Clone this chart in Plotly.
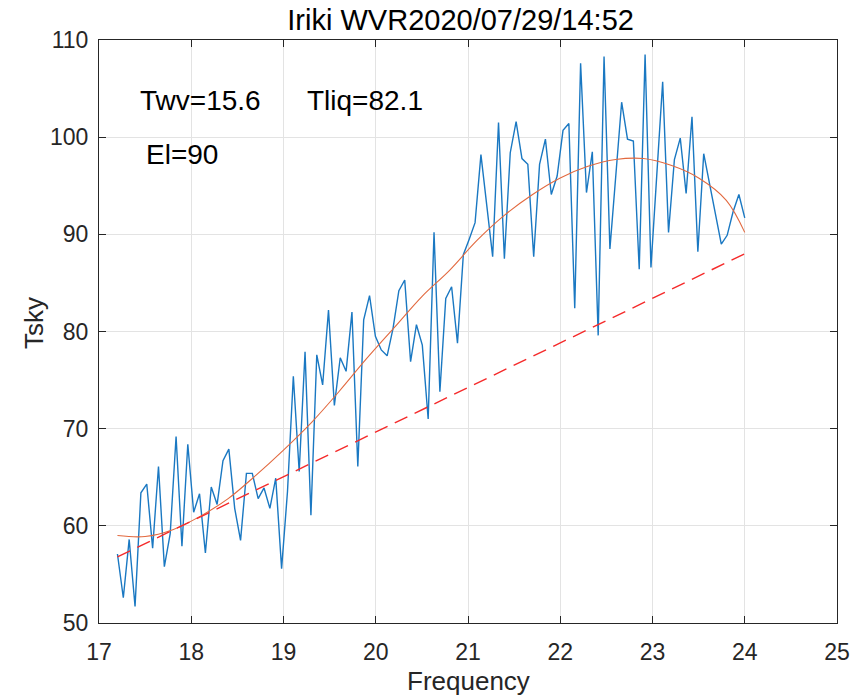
import numpy as np
import plotly.graph_objects as go

# measured sky brightness temperature (108 channels, 17.2 - 24.0 GHz)
freq = np.linspace(17.2, 24.0, 108)
tsky = [
    57.1, 52.6, 58.6, 51.7, 63.4, 64.3, 57.7, 66.1, 55.8, 59.2,
    69.2, 57.9, 68.4, 61.4, 63.3, 57.2, 64.0, 62.2, 66.7, 67.9,
    61.8, 58.5, 65.4, 65.4, 62.8, 63.9, 61.8, 64.9, 55.6, 63.5,
    75.4, 65.6, 77.9, 61.1, 77.6, 74.5, 82.2, 72.4, 77.3, 75.9,
    82.0, 66.1, 81.2, 83.7, 79.5, 78.1, 77.5, 80.3, 84.2, 85.3,
    76.9, 80.7, 78.6, 71.0, 90.2, 73.8, 83.4, 84.6, 78.8, 87.9,
    89.5, 91.2, 98.2, 92.9, 87.7, 101.5, 87.5, 98.4, 101.6, 97.8,
    97.2, 87.7, 97.2, 99.8, 94.1, 96.0, 100.7, 101.4, 82.4, 107.6,
    94.3, 98.5, 79.6, 108.3, 88.5, 96.0, 103.6, 99.8, 99.6, 86.4,
    108.5, 86.6, 96.4, 105.7, 90.2, 97.7, 99.9, 94.2, 102.1, 88.2,
    98.3, 95.3, 92.3, 89.0, 89.9, 92.3, 94.1, 91.7,
]

# model fit (orange)
fit_freq = [17.2, 17.5, 17.8, 18.1, 18.4, 18.7, 19.0, 19.3, 19.6, 19.9,
            20.2, 20.5, 20.8, 21.1, 21.4, 21.7, 22.0, 22.3, 22.6, 22.9,
            23.2, 23.5, 23.8, 24.0]
fit_tsky = [59.0, 58.9, 59.6, 61.0, 62.8, 65.2, 67.8, 70.6, 73.8, 77.2,
            80.4, 83.6, 86.3, 89.4, 92.0, 94.1, 95.8, 97.0, 97.7, 97.8,
            97.1, 95.8, 93.5, 90.2]

# dry component (red dashed)
dry_freq = [17.2, 24.0]
dry_tsky = [56.8, 88.0]

font = "Liberation Sans, Arial, sans-serif"

fig = go.Figure()
fig.add_trace(go.Scatter(x=freq, y=tsky, mode="lines",
                         line=dict(color="#1a78c2", width=1.4)))
fig.add_trace(go.Scatter(x=fit_freq, y=fit_tsky, mode="lines",
                         line=dict(color="#e2693f", width=1.1, shape="spline")))
fig.add_trace(go.Scatter(x=dry_freq, y=dry_tsky, mode="lines",
                         line=dict(color="#f52a2a", width=1.4, dash="14px,8px")))

axis_style = dict(showline=True, mirror="ticks", linecolor="#262626", linewidth=1,
                  ticks="inside", ticklen=7, tickcolor="#262626",
                  showgrid=True, gridcolor="#e3e3e3", gridwidth=1,
                  zeroline=False, automargin=False,
                  tickfont=dict(family=font, size=23, color="#262626"))

fig.update_layout(
    width=856, height=698,
    margin=dict(l=99, r=19, t=40, b=75),
    plot_bgcolor="white", paper_bgcolor="white",
    showlegend=False,
    title=dict(text="Iriki WVR2020/07/29/14:52", xref="paper", x=0.49, xanchor="center",
               yref="container", y=1 - 20 / 698, yanchor="middle",
               font=dict(family=font, size=29, color="#000000")),
    xaxis=dict(range=[17, 25], dtick=1, ticklabelstandoff=8, **axis_style),
    yaxis=dict(range=[50, 110], dtick=10, ticklabelstandoff=5, **axis_style),
)

# axis titles placed by hand so they do not push the margins
fig.add_annotation(x=0.5, y=-0.0995, xref="paper", yref="paper", text="Frequency",
                   showarrow=False, xanchor="center", yanchor="middle",
                   font=dict(family=font, size=26, color="#262626"))
fig.add_annotation(x=-0.089, y=0.515, xref="paper", yref="paper", text="Tsky",
                   textangle=-90, showarrow=False, xanchor="center", yanchor="middle",
                   font=dict(family=font, size=26, color="#262626"))

annotations = [("Twv=15.6", 17.42, 103.8), ("Tliq=82.1", 19.23, 103.8), ("El=90", 17.49, 98.2)]
for text, ax, ay in annotations:
    fig.add_annotation(x=ax, y=ay, text=text, showarrow=False, xanchor="left",
                       yanchor="middle", font=dict(family=font, size=28, color="#000000"))

# drop the default page margin so the figure fills the window
fig.write_html("out.html", config={"displayModeBar": False},
               post_script="document.body.style.margin='0';")
